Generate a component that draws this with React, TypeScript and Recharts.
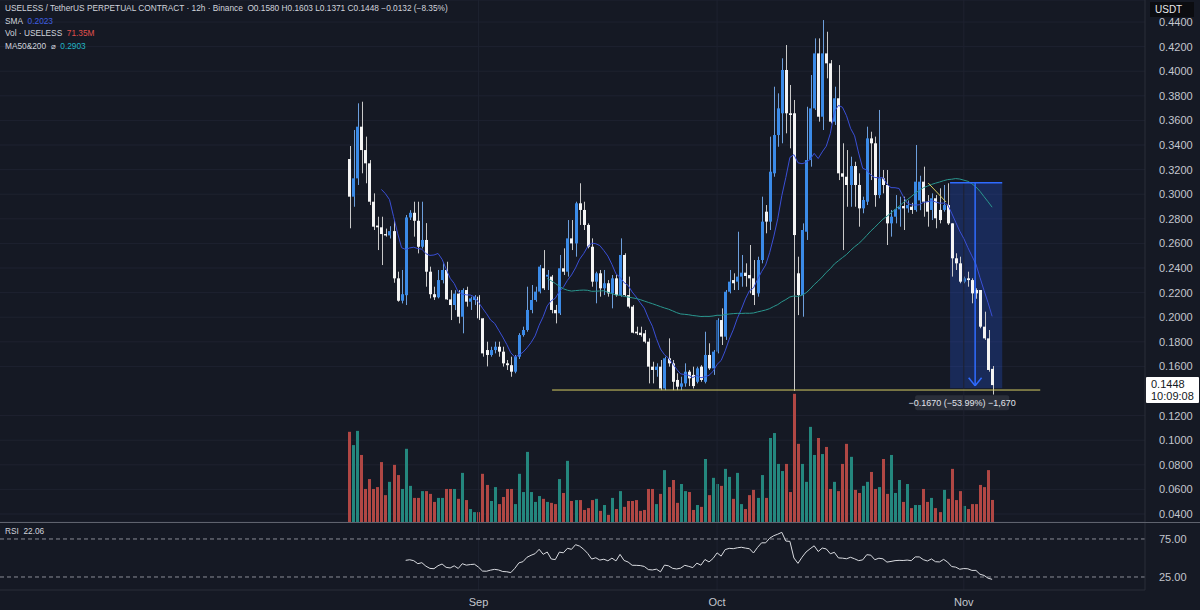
import React from 'react';
import {
  ComposedChart,
  Bar,
  Line,
  XAxis,
  YAxis,
  CartesianGrid,
  ReferenceLine,
  ReferenceArea,
} from 'recharts';

// ---------- DATA (12h candles, USELESS/USDT perpetual) ----------
const openPrices = [
  0.3286, 0.298, 0.3129, 0.3549, 0.3359, 0.3251, 0.2939, 0.2745, 0.2731, 0.2676,
  0.2665, 0.27, 0.2316, 0.2134, 0.2179, 0.2811, 0.2849, 0.2784, 0.2573, 0.2628,
  0.237, 0.2187, 0.2162, 0.2302, 0.2384, 0.2145, 0.2099, 0.2192, 0.2004, 0.2221,
  0.2126, 0.214, 0.2167, 0.1991, 0.1733, 0.1693, 0.1733, 0.176, 0.172, 0.1625,
  0.161, 0.1557, 0.1679, 0.1855, 0.1896, 0.2059, 0.214, 0.2208, 0.2398, 0.233,
  0.233, 0.2059, 0.2032, 0.2398, 0.237, 0.2641, 0.26, 0.2926, 0.2872, 0.275,
  0.2573, 0.2289, 0.2357, 0.2235, 0.2276, 0.2194, 0.2316, 0.218, 0.2506, 0.218,
  0.2086, 0.1882, 0.1874, 0.1869, 0.1801, 0.1598, 0.1571, 0.1598, 0.1421, 0.1666,
  0.1625, 0.149, 0.1435, 0.1462, 0.1557, 0.1531, 0.1475, 0.1598, 0.1475, 0.1693,
  0.1584, 0.172, 0.1977, 0.1842, 0.2207, 0.2302, 0.2289, 0.233, 0.2362, 0.2343,
  0.2316, 0.2194, 0.2465, 0.2858, 0.2777, 0.317, 0.3481, 0.3658, 0.401, 0.3658,
  0.3658, 0.2357, 0.218, 0.2695, 0.3278, 0.3698, 0.4145, 0.363, 0.4145, 0.4064,
  0.359, 0.378, 0.317, 0.3142, 0.3075, 0.3229, 0.3075, 0.2885, 0.2939, 0.3454,
  0.3414, 0.2993, 0.3129, 0.3075, 0.2763, 0.2817, 0.2877, 0.2904, 0.2885, 0.2898,
  0.2872, 0.295, 0.3102, 0.2939, 0.2872, 0.2967, 0.2872, 0.2872, 0.2912, 0.2763,
  0.2479, 0.2438, 0.2289, 0.2316, 0.2302, 0.2221, 0.2221, 0.1923, 0.1828, 0.158,
];
const highPrices = [
  0.3392, 0.3522, 0.3739, 0.3752, 0.3468, 0.3278, 0.3007, 0.2817, 0.2817, 0.272,
  0.274, 0.279, 0.237, 0.2384, 0.2831, 0.287, 0.2939, 0.2939, 0.2939, 0.2765,
  0.2411, 0.2248, 0.2384, 0.2438, 0.2451, 0.222, 0.222, 0.222, 0.2235, 0.2248,
  0.2167, 0.218, 0.218, 0.1991, 0.1801, 0.176, 0.1801, 0.1801, 0.176, 0.1652,
  0.1679, 0.1693, 0.187, 0.1923, 0.2248, 0.2262, 0.2248, 0.2425, 0.2546, 0.2384,
  0.2343, 0.21, 0.2506, 0.256, 0.279, 0.279, 0.2939, 0.3089, 0.2939, 0.2763,
  0.2641, 0.237, 0.2384, 0.2384, 0.2302, 0.2343, 0.2343, 0.2641, 0.252, 0.233,
  0.2099, 0.1923, 0.1923, 0.1896, 0.1828, 0.1638, 0.1625, 0.1652, 0.1679, 0.1828,
  0.1652, 0.1544, 0.1516, 0.1625, 0.1571, 0.1598, 0.1598, 0.161, 0.1882, 0.1788,
  0.1733, 0.1991, 0.2072, 0.2221, 0.2384, 0.2357, 0.2695, 0.2506, 0.2438, 0.2587,
  0.2465, 0.2492, 0.298, 0.2912, 0.3468, 0.3874, 0.382, 0.4105, 0.4213, 0.3888,
  0.3766, 0.2492, 0.2763, 0.3711, 0.3969, 0.4267, 0.4267, 0.4416, 0.4321, 0.4091,
  0.3874, 0.405, 0.3414, 0.3359, 0.3305, 0.3264, 0.317, 0.298, 0.3549, 0.3508,
  0.3468, 0.3685, 0.3197, 0.3197, 0.2872, 0.2993, 0.298, 0.298, 0.295, 0.293,
  0.34, 0.315, 0.3224, 0.2993, 0.3007, 0.2993, 0.3048, 0.3075, 0.3089, 0.2763,
  0.252, 0.2492, 0.233, 0.237, 0.2316, 0.2235, 0.2221, 0.2045, 0.1896, 0.1603,
];
const lowPrices = [
  0.2723, 0.2898, 0.3075, 0.317, 0.3089, 0.2912, 0.2709, 0.2546, 0.2424, 0.2655,
  0.264, 0.228, 0.2126, 0.2112, 0.2099, 0.279, 0.2655, 0.2519, 0.2559, 0.2248,
  0.2153, 0.214, 0.2153, 0.2275, 0.214, 0.1977, 0.2058, 0.195, 0.1869, 0.2086,
  0.2059, 0.21, 0.1977, 0.1679, 0.16, 0.1679, 0.1706, 0.1679, 0.1598, 0.1571,
  0.1516, 0.1544, 0.166, 0.1842, 0.1882, 0.2032, 0.2126, 0.2194, 0.2221, 0.2221,
  0.2032, 0.195, 0.2018, 0.2343, 0.233, 0.2546, 0.2492, 0.275, 0.2709, 0.256,
  0.2248, 0.2113, 0.2167, 0.218, 0.2167, 0.2072, 0.2167, 0.2167, 0.2167, 0.2072,
  0.1869, 0.1855, 0.1842, 0.1788, 0.1462, 0.1462, 0.1516, 0.1407, 0.1407, 0.1598,
  0.1407, 0.1407, 0.1407, 0.1435, 0.144, 0.1421, 0.1462, 0.1475, 0.1462, 0.1571,
  0.1531, 0.1706, 0.1774, 0.1815, 0.2194, 0.2221, 0.2221, 0.2248, 0.2248, 0.2194,
  0.2099, 0.2167, 0.2438, 0.2682, 0.2709, 0.3142, 0.3386, 0.3414, 0.3495, 0.3373,
  0.14, 0.2017, 0.2004, 0.2628, 0.3224, 0.3685, 0.359, 0.3522, 0.3942, 0.3576,
  0.3563, 0.3115, 0.2546, 0.2898, 0.2898, 0.2898, 0.2736, 0.2845, 0.2912, 0.3115,
  0.2898, 0.2967, 0.3007, 0.2587, 0.2655, 0.2763, 0.2736, 0.2709, 0.285, 0.284,
  0.2858, 0.287, 0.2817, 0.2736, 0.279, 0.2723, 0.2763, 0.2858, 0.275, 0.233,
  0.2384, 0.2276, 0.2276, 0.2248, 0.2113, 0.215, 0.191, 0.1815, 0.1557, 0.1371,
];
const closePrices = [
  0.298, 0.3129, 0.3549, 0.3359, 0.3251, 0.2939, 0.2736, 0.2731, 0.2676, 0.2665,
  0.27, 0.2316, 0.2134, 0.2187, 0.2811, 0.2849, 0.2784, 0.2573, 0.2628, 0.237,
  0.2187, 0.2162, 0.2302, 0.2384, 0.2145, 0.2099, 0.2192, 0.2004, 0.2221, 0.2126,
  0.2153, 0.2167, 0.1991, 0.1706, 0.1693, 0.1733, 0.176, 0.172, 0.1625, 0.161,
  0.1557, 0.1679, 0.1855, 0.1896, 0.2059, 0.214, 0.2208, 0.2411, 0.2235, 0.2345,
  0.2059, 0.2032, 0.2398, 0.237, 0.2641, 0.26, 0.2926, 0.2872, 0.275, 0.2573,
  0.2289, 0.2357, 0.2235, 0.2276, 0.2194, 0.2316, 0.218, 0.2506, 0.218, 0.2086,
  0.1874, 0.1869, 0.1855, 0.1801, 0.1598, 0.1571, 0.1598, 0.1421, 0.1666, 0.1625,
  0.1475, 0.1435, 0.1462, 0.1557, 0.1503, 0.144, 0.1584, 0.149, 0.1693, 0.1584,
  0.172, 0.1977, 0.1842, 0.2207, 0.2289, 0.2276, 0.233, 0.2362, 0.2335, 0.2316,
  0.218, 0.2465, 0.2777, 0.2777, 0.3183, 0.3481, 0.3698, 0.401, 0.3658, 0.3644,
  0.2668, 0.218, 0.2709, 0.3278, 0.3698, 0.4145, 0.363, 0.4145, 0.4064, 0.359,
  0.378, 0.317, 0.3142, 0.3075, 0.3229, 0.3075, 0.2885, 0.2953, 0.3454, 0.3414,
  0.2993, 0.3129, 0.3075, 0.2763, 0.2817, 0.2877, 0.2898, 0.2885, 0.2912, 0.2872,
  0.3102, 0.3102, 0.2939, 0.2858, 0.2967, 0.2804, 0.279, 0.2912, 0.2763, 0.2479,
  0.2438, 0.2289, 0.2316, 0.2302, 0.2194, 0.2194, 0.1923, 0.1828, 0.1571, 0.1448,
];
// volume in millions of USELESS
const volumeM = [
  292, 249, 295, 217, 107, 139, 107, 113, 194, 87,
  130, 185, 152, 107, 237, 117, 78, 78, 100, 100,
  91, 65, 78, 78, 107, 107, 107, 75, 159, 71,
  42, 32, 32, 156, 120, 68, 113, 58, 81, 107,
  107, 58, 156, 97, 227, 97, 65, 84, 75, 65,
  62, 58, 139, 94, 198, 68, 71, 71, 39, 45,
  71, 75, 36, 55, 23, 78, 42, 100, 49, 68,
  68, 71, 36, 39, 107, 107, 58, 91, 168, 113,
  136, 62, 123, 100, 97, 39, 55, 49, 204, 87,
  143, 123, 117, 172, 146, 75, 159, 58, 42, 87,
  104, 78, 152, 78, 272, 288, 188, 165, 188, 97,
  415, 253, 188, 130, 308, 217, 272, 220, 243, 107,
  130, 100, 188, 253, 211, 104, 94, 117, 130, 162,
  107, 113, 204, 91, 217, 94, 136, 65, 123, 45,
  55, 55, 107, 65, 78, 45, 32, 104, 75, 172,
  71, 100, 52, 42, 58, 58, 120, 113, 168, 71.35,
];
const priceTicks = [
  0.04, 0.06, 0.08, 0.1, 0.12, 0.16, 0.18, 0.2, 0.22, 0.24, 0.26, 0.28, 0.3,
  0.32, 0.34, 0.36, 0.38, 0.4, 0.42, 0.44,
];
const rsiTicks = [25, 75];
const monthLabels = ['Sep', 'Oct', 'Nov'];
const monthCandleIndex = [32, 91, 152];

// values printed in the legend of the reference
const legendSma = 0.2023;
const legendMa = 0.2903;
const legendRsi = 22.06;
const legendChange = -0.0132;
const legendChangePct = -8.35;

// drawings (in price / candle-index coordinates)
const supportLevel = 0.1408;
const supportFrom = 50.2;
const supportTo = 170.9;
const measureTop = 0.3093;
const measureBottom = 0.1423;
const measureFrom = 148.6;
const measureTo = 161.5;
const measureMid = 154.8;
const yellowTrend = [
  { x: 143.2, y: 0.3091 },
  { x: 147.6, y: 0.2937 },
];

// ---------- indicators derived from the closes ----------
function movingAverage(values: number[], period: number): (number | null)[] {
  return values.map((_, i) => {
    if (i < period - 1) return null;
    let s = 0;
    for (let k = i - period + 1; k <= i; k++) s += values[k];
    return s / period;
  });
}
function relativeStrength(values: number[], period: number): (number | null)[] {
  const out: (number | null)[] = values.map(() => null);
  let g = 0;
  let l = 0;
  for (let i = 1; i <= period; i++) {
    const d = values[i] - values[i - 1];
    if (d > 0) g += d;
    else l -= d;
  }
  g /= period;
  l /= period;
  out[period] = l === 0 ? 100 : 100 - 100 / (1 + g / l);
  for (let i = period + 1; i < values.length; i++) {
    const d = values[i] - values[i - 1];
    g = (g * (period - 1) + Math.max(d, 0)) / period;
    l = (l * (period - 1) + Math.max(-d, 0)) / period;
    out[i] = l === 0 ? 100 : 100 - 100 / (1 + g / l);
  }
  return out;
}
const sma9 = movingAverage(closePrices, 9);
const ma50 = movingAverage(closePrices, 50);
const rsi14 = relativeStrength(closePrices, 14);

const candles = closePrices.map((c, i) => ({
  i,
  open: openPrices[i],
  high: highPrices[i],
  low: lowPrices[i],
  close: c,
  volume: volumeM[i],
  up: c >= openPrices[i],
  sma9: sma9[i],
  ma50: ma50[i],
  rsi: rsi14[i],
}));
const last = closePrices.length - 1;
const lastClose = closePrices[last];

// ---------- styling ----------
const BG = '#151924';
const GRID = '#1e2230';
const AXIS_TEXT = '#c3c6ce';
const FONT = '"Liberation Sans", Arial, Helvetica, sans-serif';
const UP = '#3b8be8';
const UP_WICK = '#6d9fdc';
const DOWN = '#f4f4f4';
const DOWN_WICK = '#c9c9c9';
const VOL_UP = '#24877e';
const VOL_DOWN = '#b04744';
const SMA_COLOR = '#3a4fd6';
const MA50_COLOR = '#2a978f';

const X_DOMAIN: [number, number] = [-86.3, 196.8];
const PRICE_DOMAIN: [number, number] = [0.0335, 0.4579];
const VOL_DOMAIN: [number, number] = [0, 1690];
const RSI_DOMAIN: [number, number] = [7.9, 96];

const CandleShape = (props: any) => {
  const { x, y, width, height, payload } = props;
  if (x == null || y == null || !payload) return null;
  const top = Math.min(y, y + height);
  const h = Math.abs(height);
  const span = payload.high - payload.low;
  const pix = (v: number) => (span > 0 ? top + ((payload.high - v) / span) * h : top);
  const bTop = pix(Math.max(payload.open, payload.close));
  const bBot = pix(Math.min(payload.open, payload.close));
  const cx = Math.round(x + width / 2) + 0.5;
  const bx = Math.round(x);
  return (
    <g>
      <line x1={cx} x2={cx} y1={top} y2={top + h} stroke={payload.up ? UP_WICK : DOWN_WICK} strokeWidth={1} />
      <rect x={bx} y={bTop} width={Math.max(2, Math.round(width))} height={Math.max(1, bBot - bTop)} fill={payload.up ? UP : DOWN} />
    </g>
  );
};

const VolumeShape = (props: any) => {
  const { x, y, width, height, payload } = props;
  if (x == null || y == null || !payload) return null;
  return (
    <rect
      x={Math.round(x)}
      y={Math.min(y, y + height)}
      width={Math.max(2, Math.round(width))}
      height={Math.abs(height)}
      fill={payload.up ? VOL_UP : VOL_DOWN}
    />
  );
};

const PriceTag = (props: any) => {
  const vb = props.viewBox || {};
  const ax = (vb.x || 0) + (vb.width || 0);
  const yy = vb.y || 0;
  return (
    <g>
      <rect x={ax + 1} y={yy - 8} width={53} height={26} fill="#ffffff" rx={1} />
      <text x={ax + 6} y={yy + 3} fontSize={11} fontFamily={FONT} fill="#131722">
        {lastClose.toFixed(4)}
      </text>
      <text x={ax + 6} y={yy + 15} fontSize={11} fontFamily={FONT} fill="#131722">
        10:09:08
      </text>
    </g>
  );
};

const MeasureLabel = (props: any) => {
  const vb = props.viewBox || {};
  const cx = (vb.x || 0) + (vb.width || 0) / 2 - 14;
  const bottom = (vb.y || 0) + (vb.height || 0);
  const pct = ((measureBottom - measureTop) / measureTop) * 100;
  const diff = measureBottom - measureTop;
  const txt = `\u2212${Math.abs(diff).toFixed(4)} (\u2212${Math.abs(pct).toFixed(2)}%) \u22121,670`;
  return (
    <g>
      <rect x={cx - 47} y={bottom + 7} width={94} height={15} fill="#2a2e39" rx={2} />
      <text x={cx} y={bottom + 17.5} fontSize={9} fontFamily={FONT} fill="#e0e3eb" textAnchor="middle">
        {txt}
      </text>
    </g>
  );
};

const legendRow: React.CSSProperties = {
  position: 'absolute',
  left: 5,
  fontFamily: FONT,
  fontSize: 8.3,
  color: '#d1d4dc',
  whiteSpace: 'nowrap',
  lineHeight: '12px',
};

export default function App() {
  return (
    <div style={{ position: 'fixed', left: 0, top: 0, width: 1200, height: 610, background: BG, overflow: 'hidden' }}>
      <div style={{ position: 'absolute', left: 0, top: 0 }}>
        <ComposedChart width={1200} height={522} data={candles} margin={{ top: 0, right: 0, bottom: 0, left: 0 }}>
          <XAxis xAxisId="p" dataKey="i" type="number" domain={X_DOMAIN} allowDataOverflow hide />
          <XAxis xAxisId="v" dataKey="i" type="number" domain={X_DOMAIN} allowDataOverflow hide />
          <YAxis
            yAxisId="price"
            orientation="right"
            width={55}
            domain={PRICE_DOMAIN}
            allowDataOverflow
            ticks={priceTicks}
            interval={0}
            tickFormatter={(v: number) => v.toFixed(4)}
            tick={{ fill: AXIS_TEXT, fontSize: 11, fontFamily: FONT }}
            tickLine={false}
            axisLine={{ stroke: '#2a2e39' }}
            tickMargin={8}
          />
          <YAxis yAxisId="vol" domain={VOL_DOMAIN} allowDataOverflow hide />
          <CartesianGrid xAxisId="p" yAxisId="price" vertical={false} stroke={GRID} />
          {monthCandleIndex.map((m) => (
            <ReferenceLine key={m} xAxisId="p" yAxisId="price" x={m} stroke={GRID} />
          ))}
          <Bar
            xAxisId="v"
            yAxisId="vol"
            dataKey="volume"
            barSize={3}
            shape={<VolumeShape />}
            isAnimationActive={false}
          />
          <ReferenceArea
            xAxisId="p"
            yAxisId="price"
            x1={measureFrom}
            x2={measureTo}
            y1={measureBottom}
            y2={measureTop}
            fill="#2962ff"
            fillOpacity={0.24}
            stroke="none"
            label={<MeasureLabel />}
          />
          <Bar
            xAxisId="p"
            yAxisId="price"
            dataKey={(d: any) => [d.low, d.high]}
            barSize={3}
            shape={<CandleShape />}
            isAnimationActive={false}
          />
          <Line
            xAxisId="p"
            yAxisId="price"
            dataKey="sma9"
            stroke={SMA_COLOR}
            strokeWidth={1}
            dot={false}
            activeDot={false}
            isAnimationActive={false}
          />
          <Line
            xAxisId="p"
            yAxisId="price"
            dataKey="ma50"
            stroke={MA50_COLOR}
            strokeWidth={1}
            dot={false}
            activeDot={false}
            isAnimationActive={false}
          />
          <ReferenceLine
            xAxisId="p"
            yAxisId="price"
            segment={[
              { x: supportFrom, y: supportLevel },
              { x: supportTo, y: supportLevel },
            ]}
            stroke="#d6cd63"
            strokeWidth={1}
          />
          <ReferenceLine xAxisId="p" yAxisId="price" segment={yellowTrend} stroke="#d6cd63" strokeWidth={1} />
          <ReferenceLine
            xAxisId="p"
            yAxisId="price"
            segment={[
              { x: measureFrom, y: measureTop },
              { x: measureTo, y: measureTop },
            ]}
            stroke="#2f6bff"
            strokeWidth={1.5}
          />
          <ReferenceLine
            xAxisId="p"
            yAxisId="price"
            segment={[
              { x: measureMid, y: measureTop },
              { x: measureMid, y: measureBottom + 0.002 },
            ]}
            stroke="#2f6bff"
            strokeWidth={1.5}
          />
          <ReferenceLine
            xAxisId="p"
            yAxisId="price"
            segment={[
              { x: measureMid - 1.6, y: measureBottom + 0.0085 },
              { x: measureMid, y: measureBottom + 0.002 },
            ]}
            stroke="#2f6bff"
            strokeWidth={1.5}
          />
          <ReferenceLine
            xAxisId="p"
            yAxisId="price"
            segment={[
              { x: measureMid + 1.6, y: measureBottom + 0.0085 },
              { x: measureMid, y: measureBottom + 0.002 },
            ]}
            stroke="#2f6bff"
            strokeWidth={1.5}
          />
          <ReferenceLine xAxisId="p" yAxisId="price" y={lastClose} stroke="none" label={<PriceTag />} />
        </ComposedChart>
      </div>

      <div style={{ position: 'absolute', left: 0, top: 522, width: 1200, height: 1, background: '#5f636e' }} />

      <div style={{ position: 'absolute', left: 0, top: 522 }}>
        <ComposedChart width={1200} height={88} data={candles} margin={{ top: 1, right: 0, bottom: 0, left: 0 }}>
          <XAxis
            dataKey="i"
            type="number"
            domain={X_DOMAIN}
            allowDataOverflow
            ticks={monthCandleIndex}
            interval={0}
            tickFormatter={(v: number) => monthLabels[monthCandleIndex.indexOf(v)] ?? ''}
            tick={{ fill: AXIS_TEXT, fontSize: 11, fontFamily: FONT }}
            tickLine={false}
            axisLine={{ stroke: '#2a2e39' }}
            height={20}
          />
          <YAxis
            orientation="right"
            width={55}
            domain={RSI_DOMAIN}
            allowDataOverflow
            ticks={rsiTicks}
            interval={0}
            tickFormatter={(v: number) => v.toFixed(2)}
            tick={{ fill: AXIS_TEXT, fontSize: 11, fontFamily: FONT }}
            tickLine={false}
            axisLine={{ stroke: '#2a2e39' }}
            tickMargin={8}
          />
          {monthCandleIndex.map((m) => (
            <ReferenceLine key={m} x={m} stroke={GRID} />
          ))}
          {rsiTicks.map((t) => (
            <ReferenceLine key={t} y={t} stroke="#8a8d96" strokeDasharray="4 3" />
          ))}
          <Line
            dataKey="rsi"
            stroke="#d9dbe0"
            strokeWidth={1}
            dot={false}
            activeDot={false}
            isAnimationActive={false}
          />
        </ComposedChart>
      </div>

      <div style={{ ...legendRow, top: 2 }}>
        USELESS / TetherUS PERPETUAL CONTRACT · 12h · Binance&nbsp;&nbsp;O{openPrices[last].toFixed(4)} H
        {highPrices[last].toFixed(4)} L{lowPrices[last].toFixed(4)} C{lastClose.toFixed(4)} {'\u2212'}
        {Math.abs(legendChange).toFixed(4)} ({'\u2212'}
        {Math.abs(legendChangePct).toFixed(2)}%)
      </div>
      <div style={{ ...legendRow, top: 14.5 }}>
        SMA&nbsp;&nbsp;<span style={{ color: '#3f5fe0' }}>{legendSma.toFixed(4)}</span>
      </div>
      <div style={{ ...legendRow, top: 27 }}>
        Vol · USELESS&nbsp;&nbsp;<span style={{ color: '#e0504d' }}>{volumeM[last].toFixed(2)}M</span>
      </div>
      <div style={{ ...legendRow, top: 39.5 }}>
        MA50&amp;200&nbsp;&nbsp;⌀&nbsp;&nbsp;<span style={{ color: '#22b5c4' }}>{legendMa.toFixed(4)}</span>
      </div>
      <div style={{ ...legendRow, top: 525 }}>
        RSI&nbsp;&nbsp;<span>{legendRsi.toFixed(2)}</span>
      </div>
      <div
        style={{
          position: 'absolute',
          left: 1150,
          top: 2,
          width: 44,
          height: 15,
          background: '#0b0c10',
          color: '#e8e8ea',
          fontFamily: FONT,
          fontSize: 10,
          lineHeight: '15px',
          paddingLeft: 5,
          boxSizing: 'border-box',
        }}
      >
        USDT
      </div>
    </div>
  );
}
